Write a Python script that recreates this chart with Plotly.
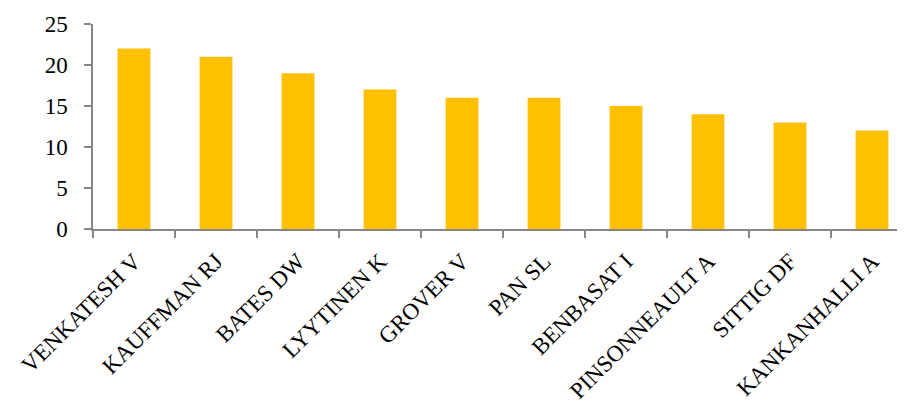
import plotly.graph_objects as go

authors = ["VENKATESH V", "KAUFFMAN RJ", "BATES DW", "LYYTINEN K", "GROVER V",
           "PAN SL", "BENBASAT I", "PINSONNEAULT A", "SITTIG DF", "KANKANHALLI A"]
counts = [22, 21, 19, 17, 16, 16, 15, 14, 13, 12]
y_ticks = [0, 5, 10, 15, 20, 25]

fig = go.Figure(go.Bar(x=authors, y=counts, marker=dict(color="#FFC000", line=dict(width=0))))

font = dict(family="Liberation Serif, Times New Roman, serif", size=23, color="#000000")
xfont = dict(family="Liberation Serif, Times New Roman, serif", size=23, color="#000000")
fig.update_layout(
    width=905, height=403,
    margin=dict(l=85, r=8, t=16, b=182),
    plot_bgcolor="white", paper_bgcolor="white",
    bargap=0.6, showlegend=False, font=font,
)
fig.update_xaxes(
    type="category", range=[-0.5, 9.402], tickangle=-45, automargin=False,
    showline=True, linecolor="#868686", linewidth=1.5,
    ticks="outside", tickson="boundaries", ticklen=7, tickcolor="#868686", tickwidth=1.5,
    showgrid=False, tickfont=xfont, ticklabelstandoff=8,
)
fig.update_yaxes(
    range=[0, 25], tickvals=y_ticks, automargin=False,
    showline=True, linecolor="#868686", linewidth=1.5,
    ticks="outside", ticklen=7, tickcolor="#868686", tickwidth=1.5,
    showgrid=False, zeroline=False, tickfont=font, ticklabelstandoff=12,
)
fig.write_html("out.html")
